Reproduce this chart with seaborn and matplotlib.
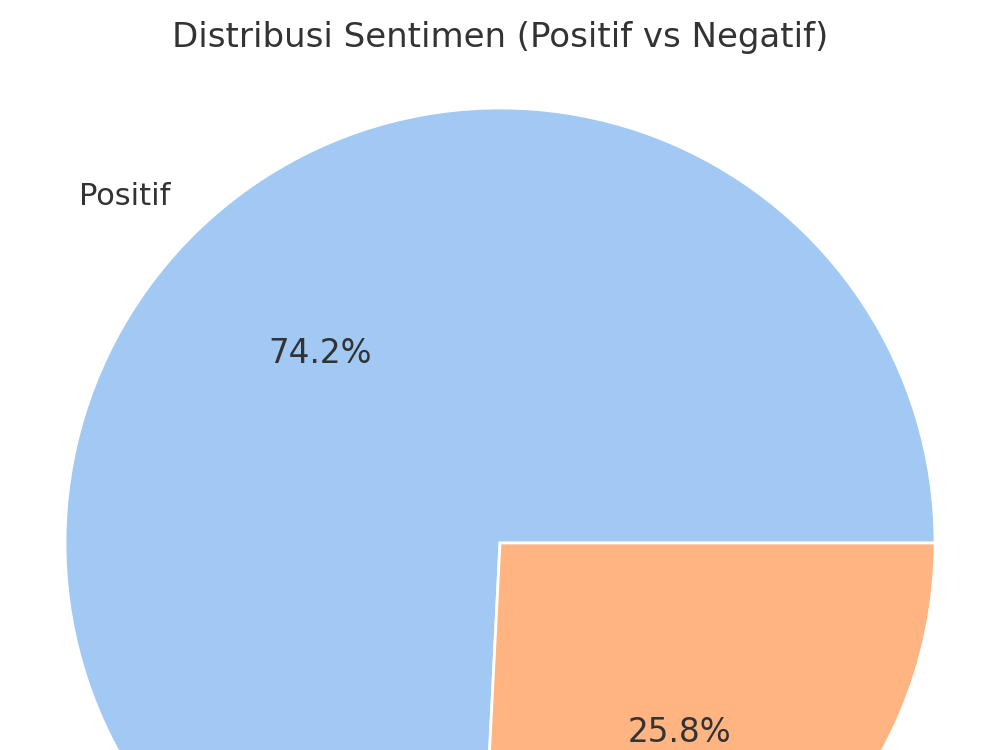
import matplotlib
matplotlib.use("Agg")
import matplotlib.pyplot as plt
import seaborn as sns

sns.set_theme(style="white")
plt.rcParams['font.family'] = ['DejaVu Sans']

labels = ["Positif", "Negatif"]
persen = [74.2, 25.8]
colors = sns.color_palette("pastel")[:2]

fig = plt.figure(figsize=(10, 7.5), dpi=100)
ax = fig.add_axes([0, 0, 1, 1])

wedges, texts, autotexts = ax.pie(
    persen, labels=labels, colors=colors, autopct="%1.1f%%",
    wedgeprops={"edgecolor": "white", "linewidth": 2},
    textprops={"color": "0.2"})
for t in texts:
    t.set_fontsize(22)
for t in autotexts:
    t.set_fontsize(23.5)

# pie radius ~435 px, centre at (500, 543) px in a 1000x750 canvas
r = 435.0
ax.set_xlim(-500 / r, 500 / r)
ax.set_ylim(-(750 - 543) / r, 543 / r)
ax.set_aspect("equal")
ax.axis("off")

fig.text(0.5, 1 - 37 / 750, "Distribusi Sentimen (Positif vs Negatif)",
         ha="center", va="center", fontsize=24.5, color="0.2")

fig.savefig("out.png", dpi=100)
